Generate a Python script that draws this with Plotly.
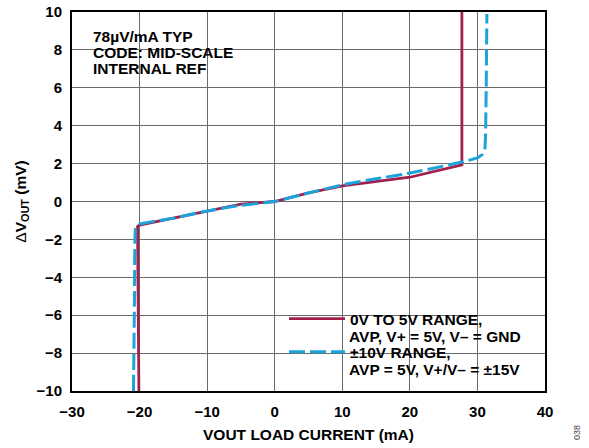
import plotly.graph_objects as go

# ---- data ----
red_x = [-20.1, -20.2, -20.3, -20.0, -17.0, -15.0, -10.0, -5.0, 0.0, 5.0, 10.0, 15.0, 20.0, 27.7, 27.7]
red_y = [-10.0, -5.0, -1.32, -1.25, -1.02, -0.88, -0.52, -0.14, 0.0, 0.45, 0.82, 1.05, 1.28, 1.93, 10.0]

blue_x = [-20.9, -20.75, -20.6, -20.1, -17.0, -15.0, -10.0, -5.0, 0.0, 5.0, 10.0, 15.0, 20.0, 27.7, 30.0, 30.8, 31.1, 31.2, 31.3, 31.4]
blue_y = [-10.0, -5.0, -1.42, -1.2, -1.0, -0.88, -0.5, -0.2, 0.0, 0.45, 0.88, 1.2, 1.5, 2.08, 2.3, 2.5, 2.8, 3.5, 6.0, 9.9]

red_name = ["0V TO 5V RANGE,", "AVP, V+ = 5V, V\u2013 = GND"]
blue_name = ["\u00b110V RANGE,", "AVP = 5V, V+/V\u2013 = \u00b115V"]

note_lines = ["78\u00b5V/mA TYP", "CODE: MID-SCALE", "INTERNAL REF"]

x_ticks = [-30, -20, -10, 0, 10, 20, 30, 40]
y_ticks = [-10, -8, -6, -4, -2, 0, 2, 4, 6, 8, 10]

RED = "#A31F4E"
BLUE = "#1BA3DA"
FONT = "Liberation Sans, Arial, sans-serif"

fig = go.Figure()
fig.add_trace(go.Scatter(x=red_x, y=red_y, mode="lines", name=red_name[0], legendgroup="a",
                         line=dict(color=RED, width=2.8)))
fig.add_trace(go.Scatter(x=blue_x, y=blue_y, mode="lines", name=blue_name[0], legendgroup="b",
                         line=dict(color=BLUE, width=3, dash="16px,5px", shape="spline", smoothing=0.3)))

W, H = 589, 448
PL, PR, PT, PB = 72, 545, 12, 391          # plot box in page pixels
ml, mr, mt, mb = PL, W - PR, PT, H - PB
pw, ph = PR - PL, PB - PT

def px_x(p):
    return (p - PL) / pw

def px_y(p):
    return (PB - p) / ph

axis_common = dict(
    showline=True, mirror=True, linecolor="black", linewidth=2,
    showgrid=True, gridcolor="#6a6a6a", gridwidth=1,
    zeroline=False, ticks="",
    tickfont=dict(family=FONT, size=15, color="black", weight="bold"),
)

fig.update_xaxes(range=[-30, 40], tickvals=x_ticks, ticklabelstandoff=6,
                 title=dict(text="VOUT LOAD CURRENT (mA)", standoff=10,
                            font=dict(family=FONT, size=15.5, color="black", weight="bold")),
                 **axis_common)
fig.update_yaxes(range=[-10, 10], tickvals=y_ticks, ticklabelstandoff=5,
                 title=dict(text="\u0394<b>V<sub>OUT</sub> (mV)</b>", standoff=6,
                            font=dict(family=FONT, size=15.5, color="black")),
                 **axis_common)

# white boxes behind the note text and the legend (they cover the gridlines)
fig.add_shape(type="rect", xref="paper", yref="paper",
              x0=px_x(89), x1=px_x(234), y0=px_y(80), y1=px_y(27),
              fillcolor="white", line=dict(width=0), layer="between")
fig.add_shape(type="rect", xref="paper", yref="paper",
              x0=px_x(278), x1=px_x(541), y0=px_y(383), y1=px_y(302),
              fillcolor="white", line=dict(width=0), layer="between")

for i, t in enumerate(note_lines):
    fig.add_annotation(text=t, xref="paper", yref="paper",
                       x=px_x(90.5), y=px_y(36 + 16.2 * i), xanchor="left", yanchor="middle",
                       showarrow=False,
                       font=dict(family=FONT, size=15.5, color="black", weight="bold"))

# second lines of the legend entries
for t, yy in ((red_name[1], 336.5), (blue_name[1], 369.5)):
    fig.add_annotation(text=t, xref="paper", yref="paper",
                       x=px_x(347), y=px_y(yy), xanchor="left", yanchor="middle",
                       showarrow=False,
                       font=dict(family=FONT, size=15.5, color="black", weight="bold"))

fig.add_annotation(text="038", xref="paper", yref="paper", x=px_x(577), y=px_y(433),
                   textangle=-90, showarrow=False, xanchor="center", yanchor="middle",
                   font=dict(family=FONT, size=9, color="#444"))

fig.update_layout(
    width=W, height=H,
    margin=dict(l=ml, r=mr, t=mt, b=mb, autoexpand=False),
    paper_bgcolor="white", plot_bgcolor="white",
    font=dict(family=FONT, color="black"),
    showlegend=True,
    legend=dict(x=px_x(284), y=px_y(302), xanchor="left", yanchor="top",
                bgcolor="rgba(0,0,0,0)", borderwidth=0, valign="top",
                itemwidth=56, tracegroupgap=10,
                font=dict(family=FONT, size=15.5, color="black", weight="bold")),
)

fig.write_html("out.html", config={"displayModeBar": False},
               post_script="document.body.style.margin='0';")
